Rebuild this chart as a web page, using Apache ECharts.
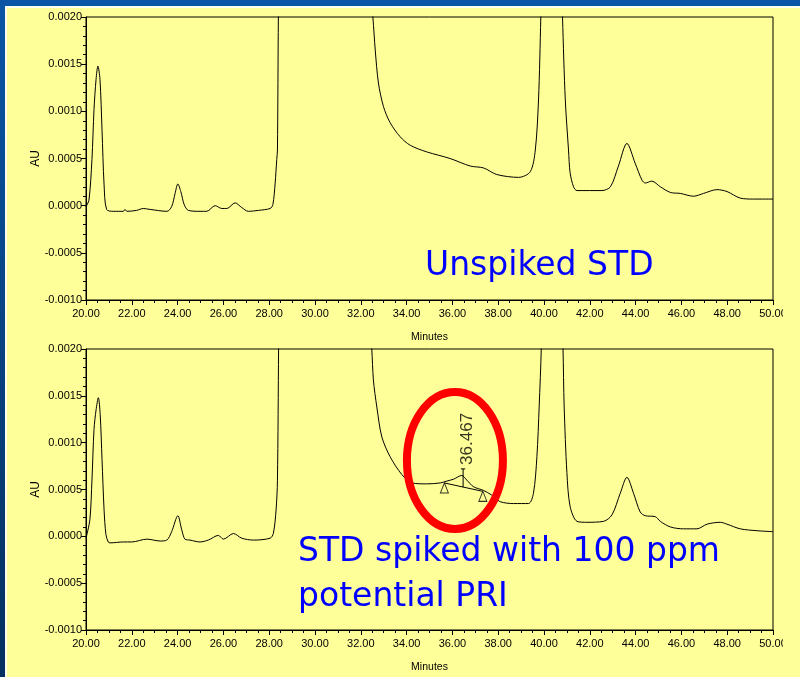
<!DOCTYPE html>
<html><head><meta charset="utf-8">
<script src="https://cdn.jsdelivr.net/npm/echarts@6/dist/echarts.min.js"></script>
<style>html,body{margin:0;padding:0;background:#0a4f9c;} #c{width:800px;height:677px;}</style>
</head><body><div id="c"></div>
<script>
// ---- axis definitions ----
const xRange = [20, 50];
const xInterval = 2;
const yRange = [-0.0010, 0.0020];
const yInterval = 0.0005;
const xAxisTitle = 'Minutes';
const yAxisTitle = 'AU';

// ---- Unspiked STD trace (minutes, AU) ----
const unspikedTime = [20.00,20.13,20.26,20.35,20.44,20.52,20.61,20.70,20.79,20.90,21.19,21.63,21.70,21.79,22.21,22.50,22.80,23.53,23.74,23.89,24.01,24.14,24.29,24.47,24.98,25.27,25.64,25.93,26.15,26.51,26.80,27.09,27.53,28.04,28.16,28.26,28.33,28.36,28.40,28.50,29.00,30.50,31.80,32.30,32.53,32.63,32.77,32.99,33.28,33.72,34.16,34.88,35.90,36.78,37.36,37.94,38.89,39.40,39.62,39.76,39.86,40.05,40.30,40.60,40.81,40.93,41.07,41.14,41.29,41.44,42.53,42.90,43.25,43.62,43.98,44.28,44.42,44.71,45.08,45.52,45.95,46.53,46.97,47.55,47.99,48.57,49.15,50.00];
const unspikedAU = [-0.00001,0.00006,0.00049,0.00102,0.00134,0.00148,0.00134,0.00080,0.00022,-0.00004,-0.00006,-0.00006,-0.00004,-0.00006,-0.00005,-0.00003,-0.00004,-0.00006,-0.00001,0.00013,0.00023,0.00015,0.00001,-0.00005,-0.00006,-0.00006,0.00000,-0.00003,-0.00003,0.00003,-0.00002,-0.00006,-0.00005,-0.00003,0.00001,0.00024,0.00049,0.00059,0.00200,0.0045,0.0080,0.0070,0.0040,0.0026,0.00199,0.00165,0.00130,0.00105,0.00088,0.00073,0.00064,0.00057,0.00050,0.00042,0.00040,0.00033,0.00030,0.00036,0.00059,0.00112,0.00199,0.0040,0.0060,0.0040,0.00199,0.00112,0.00059,0.00035,0.00020,0.00016,0.00016,0.00020,0.00042,0.00066,0.00045,0.00027,0.00024,0.00026,0.00020,0.00014,0.00013,0.00010,0.00013,0.00017,0.00015,0.00008,0.00007,0.00007];

// ---- STD spiked with 100 ppm potential PRI (minutes, AU) ----
const spikedTime = [20.00,20.17,20.26,20.35,20.44,20.54,20.62,20.70,20.79,20.87,20.97,21.05,21.63,22.00,22.66,23.24,23.53,23.74,24.01,24.18,24.32,24.54,24.98,25.34,25.78,26.00,26.44,26.80,27.31,28.04,28.18,28.30,28.36,28.41,28.50,29.00,30.50,31.80,32.30,32.48,32.55,32.70,32.92,33.28,33.79,34.23,34.88,35.47,35.76,36.05,36.41,36.63,36.92,37.36,37.72,38.09,38.67,39.32,39.54,39.69,39.79,39.88,40.05,40.30,40.60,40.83,40.88,41.00,41.14,41.44,41.87,42.60,42.97,43.33,43.62,43.91,44.20,44.42,44.86,45.08,45.52,46.09,46.68,47.12,47.70,47.99,48.57,49.30,50.00];
const spikedAU = [-0.00002,0.00018,0.00060,0.00114,0.00135,0.00148,0.00130,0.00082,0.00028,0.00002,-0.00006,-0.00007,-0.00006,-0.00006,-0.00003,-0.00005,-0.00004,0.00005,0.00022,0.00007,-0.00003,-0.00004,-0.00006,-0.00004,0.00001,-0.00003,0.00003,-0.00002,-0.00004,-0.00002,0.00003,0.00028,0.00060,0.00200,0.0045,0.0080,0.0070,0.0040,0.0026,0.00200,0.00167,0.00138,0.00106,0.00085,0.00066,0.00057,0.00056,0.00057,0.00059,0.00061,0.00065,0.00060,0.00053,0.00049,0.00044,0.00037,0.00035,0.00035,0.00046,0.00085,0.00139,0.00200,0.0040,0.0060,0.0040,0.00200,0.00139,0.00068,0.00032,0.00016,0.00015,0.00016,0.00023,0.00046,0.00063,0.00046,0.00026,0.00022,0.00021,0.00016,0.00010,0.00008,0.00008,0.00013,0.00015,0.00013,0.00008,0.00006,0.00005];

// ---- peak annotation on the spiked trace ----
const peakTime = 36.467;
const peakLabel = '36.467';
const integrationStart = [35.65, 0.00057];
const integrationEnd = [37.33, 0.00048];
const dropLineAU = [0.000525, 0.00072];
const dropBarTime = [36.37, 36.56];
const ringCenter = [36.11, 0.00081];

// ---- slide captions ----
const caption1 = ['Unspiked STD'];
const caption2 = ['STD spiked with 100 ppm', 'potential PRI'];

const zip = (a, b) => a.map((v, i) => [v, b[i]]);
const axisFont = "'Liberation Sans', Arial, sans-serif";
const captionFont = "'DejaVu Sans', Verdana, sans-serif";

function xAxisCfg(gi) {
  return {
    type: 'value', gridIndex: gi, min: xRange[0], max: xRange[1], interval: xInterval,
    name: xAxisTitle, nameLocation: 'middle', nameGap: 32, nameMoveOverlap: false,
    nameTextStyle: { fontFamily: axisFont, fontSize: 10.5, color: '#000' },
    axisLine: { show: true, onZero: false, lineStyle: { color: '#000', width: 1 } },
    axisTick: { show: true, length: 5, lineStyle: { color: '#000' } },
    minorTick: { show: true, splitNumber: 4, length: 3, lineStyle: { color: '#000' } },
    axisLabel: { margin: 8, fontFamily: axisFont, fontSize: 11, color: '#000', formatter: v => v.toFixed(2) },
    splitLine: { show: false }, minorSplitLine: { show: false }
  };
}
function yAxisCfg(gi) {
  return {
    type: 'value', gridIndex: gi, min: yRange[0], max: yRange[1], interval: yInterval,
    name: yAxisTitle, nameLocation: 'middle', nameGap: 44, nameRotate: 90, nameMoveOverlap: false,
    nameTextStyle: { fontFamily: axisFont, fontSize: 12, color: '#000' },
    axisLine: { show: true, onZero: false, lineStyle: { color: '#000', width: 1 } },
    axisTick: { show: true, length: 5, lineStyle: { color: '#000' } },
    minorTick: { show: true, splitNumber: 5, length: 3, lineStyle: { color: '#000' } },
    axisLabel: { margin: 4, fontFamily: axisFont, fontSize: 11, color: '#000', formatter: v => v.toFixed(4) },
    splitLine: { show: false }, minorSplitLine: { show: false }
  };
}
const traceStyle = { color: '#000', width: 1 };

const chart = echarts.init(document.getElementById('c'));
chart.setOption({
  animation: false,
  backgroundColor: '#ffff99',
  grid: [
    { left: 86, top: 17, width: 687, height: 283, show: true, borderColor: '#000', borderWidth: 1, backgroundColor: 'transparent' },
    { left: 86, top: 349, width: 687, height: 281, show: true, borderColor: '#000', borderWidth: 1, backgroundColor: 'transparent' }
  ],
  xAxis: [xAxisCfg(0), xAxisCfg(1)],
  yAxis: [yAxisCfg(0), yAxisCfg(1)],
  series: [
    { type: 'line', xAxisIndex: 0, yAxisIndex: 0, data: zip(unspikedTime, unspikedAU), symbol: 'none', smooth: 0.3, clip: true, lineStyle: traceStyle, silent: true },
    { type: 'line', xAxisIndex: 1, yAxisIndex: 1, data: zip(spikedTime, spikedAU), symbol: 'none', smooth: 0.3, clip: true, lineStyle: traceStyle, silent: true },
    { type: 'line', xAxisIndex: 1, yAxisIndex: 1, data: [integrationStart, integrationEnd], symbol: 'none', lineStyle: traceStyle, silent: true },
    { type: 'line', xAxisIndex: 1, yAxisIndex: 1, data: [[peakTime, dropLineAU[0]], [peakTime, dropLineAU[1]]], symbol: 'none', lineStyle: traceStyle, silent: true },
    { type: 'line', xAxisIndex: 1, yAxisIndex: 1, data: [[dropBarTime[0], dropLineAU[1]], [dropBarTime[1], dropLineAU[1]]], symbol: 'none', lineStyle: traceStyle, silent: true },
    { type: 'scatter', xAxisIndex: 1, yAxisIndex: 1, data: [integrationStart, integrationEnd], symbol: 'triangle', symbolSize: [8, 10], symbolOffset: [0, '50%'],
      itemStyle: { color: '#ffff99', borderColor: '#000', borderWidth: 1 }, silent: true, z: 5 },
    { type: 'scatter', xAxisIndex: 1, yAxisIndex: 1, data: [[peakTime, dropLineAU[1]]], symbolSize: 0, silent: true, z: 5,
      label: { show: true, formatter: peakLabel, position: 'top', distance: 4, rotate: 90, align: 'left', verticalAlign: 'middle', offset: [0, 4],
               fontFamily: axisFont, fontSize: 17, color: '#000' } }
  ],
  graphic: [
    { id: 'topBlue', type: 'rect', shape: { x: 0, y: 0, width: 800, height: 6 }, style: { fill: '#0a55a5' }, silent: true },
    { id: 'leftBlue', type: 'rect', shape: { x: 0, y: 0, width: 5, height: 677 },
      style: { fill: new echarts.graphic.LinearGradient(0, 0, 0, 1, [{ offset: 0, color: '#0a55a5' }, { offset: 1, color: '#05305f' }]) }, silent: true },
    { id: 'topLine', type: 'rect', shape: { x: 5, y: 6, width: 795, height: 2 }, style: { fill: '#fffff0' }, silent: true },
    { id: 'leftLine', type: 'rect', shape: { x: 5, y: 6, width: 2, height: 671 }, style: { fill: '#fffff0' }, silent: true },
    { id: 'rightCut', type: 'rect', shape: { x: 783, y: 8, width: 17, height: 669 }, style: { fill: '#ffff99' }, silent: true, z: 50 },
    { id: 'cap1', type: 'text', x: 425, y: 266, style: { text: caption1[0], fontFamily: captionFont, fontSize: 33, fill: '#0000ff', verticalAlign: 'middle' }, z: 60 },
    { id: 'cap2a', type: 'text', x: 298, y: 552, style: { text: caption2[0], fontFamily: captionFont, fontSize: 33, fill: '#0000ff', verticalAlign: 'middle' }, z: 60 },
    { id: 'cap2b', type: 'text', x: 298, y: 597, style: { text: caption2[1], fontFamily: captionFont, fontSize: 33, fill: '#0000ff', verticalAlign: 'middle' }, z: 60 }
  ]
});
const c = chart.convertToPixel({ xAxisIndex: 1, yAxisIndex: 1 }, ringCenter);
chart.setOption({
  graphic: [
    { id: 'ring', type: 'ellipse', shape: { cx: c[0], cy: c[1], rx: 48, ry: 68.5 }, style: { fill: 'none', stroke: '#ff0000', lineWidth: 8 }, silent: true, z: 70 }
  ]
});
</script>
</body></html>
